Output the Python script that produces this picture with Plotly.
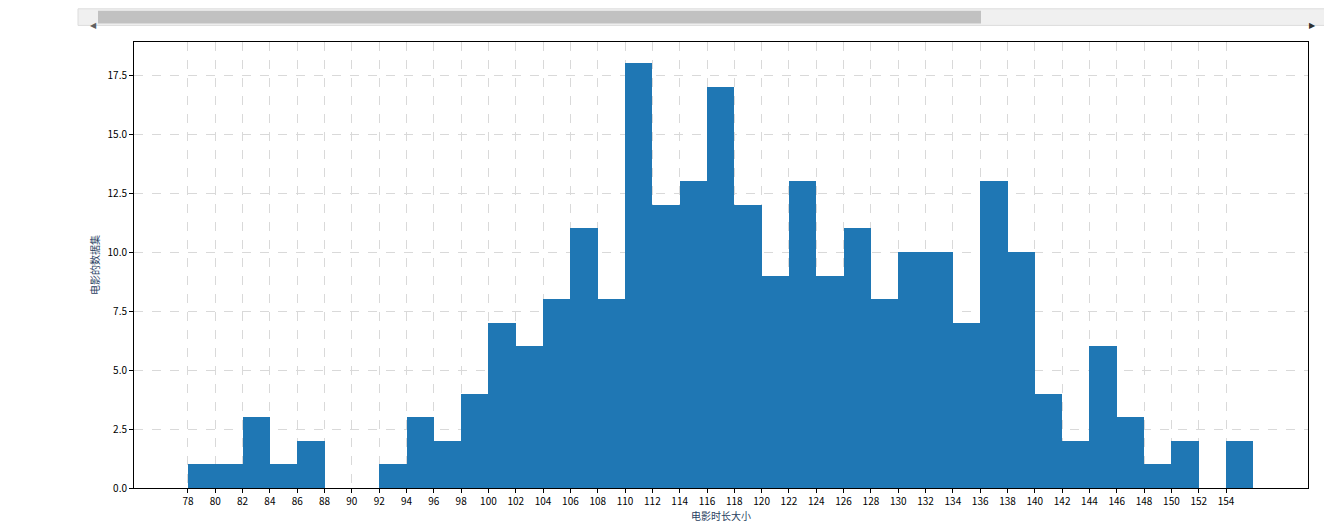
import plotly.graph_objects as go

bin_starts = list(range(78, 156, 2))
counts = [1, 1, 3, 1, 2, 0, 0, 1, 3, 2, 4, 7, 6, 8, 11, 8, 18, 12, 13, 17, 12, 9,
          13, 9, 11, 8, 10, 10, 7, 13, 10, 4, 2, 6, 3, 1, 2, 0, 2]
tick_vals = list(range(78, 156, 2))
x_label = "电影时长大小"
y_label = "电影的数据集"

W, H = 1332, 521
L, R, T, B = 126, 32, 34, 30
pw, ph = W - L - R, H - T - B

def px(x):
    return (x - L) / pw

def py(y):
    return (H - B - y) / ph

fig = go.Figure(go.Bar(
    x=[s + 1 for s in bin_starts], y=counts, width=2,
    marker=dict(color="#1f77b4", line=dict(width=0)),
))

font = "Noto Sans CJK SC"
axis_common = dict(showline=True, linecolor="black", linewidth=1, mirror=True,
                   ticks="outside", ticklen=4, tickcolor="black",
                   showgrid=True, gridcolor="#d9d9d9", griddash="dash", gridwidth=1,
                   zeroline=False, tickfont=dict(size=10, color="black", family=font))
fig.update_layout(
    width=W, height=H, margin=dict(l=L, r=R, t=T, b=B),
    paper_bgcolor="white", plot_bgcolor="white", showlegend=False, bargap=0,
    xaxis=dict(range=[74.05, 160], tickvals=tick_vals,
               title=dict(text=x_label, standoff=2, font=dict(size=10, family=font)),
               **axis_common),
    yaxis=dict(range=[0, 18.9], tickvals=[0, 2.5, 5, 7.5, 10, 12.5, 15, 17.5],
               ticktext=["0.0", "2.5", "5.0", "7.5", "10.0", "12.5", "15.0", "17.5"],
               title=dict(text=y_label, standoff=6, font=dict(size=10, family=font)),
               **axis_common),
    shapes=[
        dict(type="rect", xref="paper", yref="paper", x0=px(70), x1=px(1322),
             y0=py(0), y1=py(17), fillcolor="#f0f0f0", line=dict(color="#dcdcdc", width=1)),
        dict(type="rect", xref="paper", yref="paper", x0=px(90), x1=px(973),
             y0=py(2), y1=py(15), fillcolor="#c1c1c1", line=dict(width=0)),
    ],
    annotations=[
        dict(text="◀", xref="paper", yref="paper", x=px(80), y=py(8.5), showarrow=False,
             font=dict(size=8, color="#606060")),
        dict(text="▶", xref="paper", yref="paper", x=px(1310), y=py(8.5), showarrow=False,
             font=dict(size=8, color="#303030")),
    ],
)
fig.write_html("out.html")
